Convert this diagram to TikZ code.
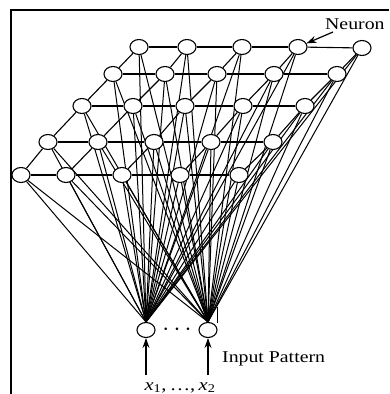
\documentclass[tikz,border=0pt]{standalone}
\usepackage{fontspec}
\setmainfont{Liberation Serif}
\usetikzlibrary{shapes.geometric,arrows.meta,backgrounds}
\begin{document}
\begin{tikzpicture}[x=1pt,y=-1pt,
  neuron/.style={draw,ellipse,fill=white,minimum width=18pt,minimum height=15pt,inner sep=0pt,line width=1.1pt},
  link/.style={line width=1pt},
  gridline/.style={line width=1.1pt},
  lbl/.style={font=\fontsize{16.5}{19}\selectfont, inner sep=0pt},
  tip/.style={-{Stealth[length=10pt,width=7pt]}, line width=1.2pt}]
\path[use as bounding box] (0,0) rectangle (389,394);
% frame
\coordinate (f1) at (11,394);
\coordinate (f2) at (11,10);
\coordinate (f3) at (389,10);
\draw[line width=2.4pt] (f1) -- (f2) -- (f3);
% neurons
\foreach \x/\y [count=\c] in {139/47,187/47,242/47,298/47,362/48}
  \node[neuron] (n1-\c) at (\x,\y) {};
\foreach \x/\y [count=\c] in {113/74,165/74,217/74,274/74,337/74}
  \node[neuron] (n2-\c) at (\x,\y) {};
\foreach \x/\y [count=\c] in {82/106,133/106,185/106,243/106,305/106}
  \node[neuron] (n3-\c) at (\x,\y) {};
\foreach \x/\y [count=\c] in {48/142,98/142,154/142,211/142,273/142}
  \node[neuron] (n4-\c) at (\x,\y) {};
\foreach \x/\y [count=\c] in {21/175,66/175,122/175,180/175,239/175}
  \node[neuron] (n5-\c) at (\x,\y) {};
% inputs
\node[neuron] (in1) at (146,330) {};
\node[neuron] (in2) at (208,330) {};
\node[inner sep=0pt] (dots) at (177,330) {\fontsize{24}{24}\selectfont$\cdots$};
\begin{scope}[on background layer]
  \foreach \r in {1,...,5}
    \foreach \c in {1,...,5} {
      \draw[link] (n\r-\c) -- (in1.north);
      \draw[link] (n\r-\c) -- (in2.north);
    }
  \foreach \r in {1,...,5}
    \foreach \c [count=\d from 2] in {1,...,4}
      \draw[gridline] (n\r-\c) -- (n\r-\d);
  \foreach \r [count=\s from 2] in {1,...,4}
    \foreach \c in {1,...,5}
      \draw[gridline] (n\r-\c) -- (n\s-\c);
\end{scope}
\coordinate (t1) at (217,307);
\coordinate (t2) at (217,323);
\draw[link] (t1) -- (t2);
% input arrows
\coordinate (a1) at (146,375);
\coordinate (a2) at (208,375);
\draw[tip] (a1) -- (in1);
\draw[tip] (a2) -- (in2);
% labels
\node[lbl, anchor=base west] (neuronlbl) at (325,29) {\scalebox{1.2}[1]{Neuron}};
\coordinate (na) at (333,32);
\draw[tip] (na) -- (n1-4);
\node[lbl, anchor=base west] (inplbl) at (222,362) {\scalebox{1.2}[1]{Input Pattern}};
\node[lbl, anchor=base] (xlbl) at (180,390) {\fontsize{17}{19}\selectfont\scalebox{1.2}[1]{\textit{x}\textsubscript{1},\,\ldots,\,\textit{x}\textsubscript{2}}};
\end{tikzpicture}
\end{document}
